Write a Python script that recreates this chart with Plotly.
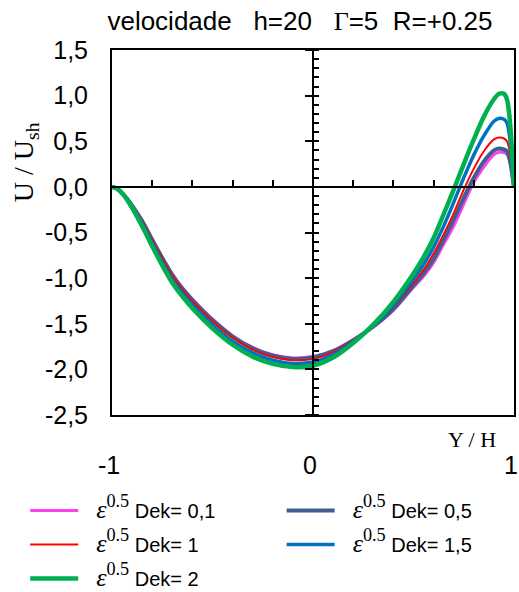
import plotly.graph_objects as go

x_vals = [-1, -0.975, -0.95, -0.925, -0.9, -0.85, -0.8, -0.75, -0.7, -0.65, -0.6, -0.5, -0.4,
          -0.3, -0.2, -0.1, 0, 0.1, 0.2, 0.3, 0.4, 0.5, 0.55, 0.6, 0.65, 0.7, 0.75, 0.8, 0.85,
          0.9, 0.925, 0.95, 0.965, 0.975, 0.985, 0.993, 1.0]

u_dek_01 = [0, -0.02, -0.065, -0.125, -0.20, -0.365, -0.57, -0.77, -0.955, -1.105, -1.23, -1.45, -1.63,
            -1.76, -1.84, -1.875, -1.86, -1.795, -1.68, -1.535, -1.35, -1.10, -0.98, -0.83, -0.63, -0.43,
            -0.19, 0.05, 0.22, 0.355, 0.38, 0.375, 0.355, 0.305, 0.21, 0.095, 0]
u_dek_05 = [0, -0.02, -0.065, -0.13, -0.205, -0.375, -0.58, -0.78, -0.965, -1.115, -1.24, -1.46, -1.64,
            -1.77, -1.85, -1.885, -1.87, -1.80, -1.68, -1.53, -1.34, -1.08, -0.95, -0.79, -0.58, -0.36,
            -0.12, 0.10, 0.28, 0.40, 0.42, 0.41, 0.39, 0.335, 0.23, 0.105, 0]
u_dek_1 = [0, -0.02, -0.065, -0.13, -0.21, -0.385, -0.59, -0.79, -0.98, -1.125, -1.255, -1.475, -1.655,
           -1.785, -1.865, -1.90, -1.885, -1.81, -1.68, -1.52, -1.32, -1.05, -0.91, -0.73, -0.52, -0.29,
           -0.03, 0.20, 0.39, 0.52, 0.54, 0.53, 0.50, 0.43, 0.30, 0.135, 0]
u_dek_15 = [0, -0.02, -0.07, -0.135, -0.22, -0.41, -0.625, -0.83, -1.02, -1.165, -1.295, -1.515, -1.695,
            -1.82, -1.90, -1.935, -1.92, -1.84, -1.695, -1.52, -1.30, -1.01, -0.85, -0.66, -0.43, -0.17,
            0.10, 0.35, 0.56, 0.72, 0.75, 0.74, 0.70, 0.60, 0.41, 0.19, 0]
u_dek_2 = [0, -0.02, -0.07, -0.14, -0.23, -0.43, -0.65, -0.86, -1.05, -1.20, -1.33, -1.55, -1.73,
           -1.86, -1.94, -1.975, -1.96, -1.87, -1.71, -1.51, -1.26, -0.95, -0.77, -0.56, -0.30, -0.03,
           0.25, 0.52, 0.77, 0.96, 1.02, 1.02, 0.96, 0.82, 0.57, 0.26, 0]

series_labels = ["0,1", "0,5", "1", "1,5", "2"]
series_values = [u_dek_01, u_dek_05, u_dek_1, u_dek_15, u_dek_2]
series_colors = ["#FF40F0", "#3F5F8F", "#FF0000", "#0070C0", "#00B050"]
series_widths = [3, 4, 2, 3.5, 4.5]
series_legend = ["legend", "legend2", "legend", "legend2", "legend"]

y_ticks = [1.5, 1.0, 0.5, 0.0, -0.5, -1.0, -1.5, -2.0, -2.5]
y_tick_text = ["1,5", "1,0", "0,5", "0,0", "-0,5", "-1,0", "-1,5", "-2,0", "-2,5"]
x_ticks = [-1, 0, 1]
x_tick_text = ["-1", "0", "1"]

SERIF = "Liberation Serif, Times New Roman, serif"
SANS = "Liberation Sans, Arial, sans-serif"

fig = go.Figure()
for lab, vals, col, w, lg in zip(series_labels, series_values, series_colors, series_widths, series_legend):
    name = (f"<span style='font-family:{SERIF};font-size:26px'>&nbsp;&nbsp;<i>ε</i><sup>0.5</sup></span>"
            f" Dek= {lab}")
    fig.add_trace(go.Scatter(x=x_vals, y=vals, mode="lines", name=name, legend=lg,
                             legendgroup="g" + lab,
                             line=dict(color=col, width=w, shape="spline", smoothing=0.8)))

# empty helper traces so that the axes through the origin are drawn
fig.add_trace(go.Scatter(x=[], y=[], xaxis="x2", yaxis="y", showlegend=False, hoverinfo="skip"))
fig.add_trace(go.Scatter(x=[], y=[], xaxis="x", yaxis="y2", showlegend=False, hoverinfo="skip"))

legend_common = dict(orientation="v", xanchor="left", yanchor="top", y=-0.208,
                     itemwidth=48, font=dict(family=SANS, size=20),
                     bgcolor="rgba(0,0,0,0)", traceorder="grouped", tracegroupgap=5)

fig.update_layout(
    width=519, height=592,
    margin=dict(l=112, r=5, t=50, b=177, autoexpand=False),
    paper_bgcolor="white", plot_bgcolor="white",
    font=dict(family=SANS, size=20, color="black"),
    title=dict(text=f"velocidade   h=20   <span style='font-family:{SERIF}'>Γ</span>=5  R=+0.25",
               x=0.578, xanchor="center", y=0.965, yanchor="middle",
               font=dict(family=SANS, size=26, color="black")),
    xaxis=dict(range=[-1, 1], tickvals=x_ticks, ticktext=x_tick_text,
               showgrid=False, zeroline=False, showline=True, linewidth=2, linecolor="black",
               mirror=True, ticks="", ticklabelstandoff=27, ticklabelshift=-3,
               ticklabeloverflow="allow", tickfont=dict(size=25)),
    yaxis=dict(range=[-2.5, 1.5], tickvals=y_ticks, ticktext=y_tick_text,
               showgrid=False, zeroline=False, showline=True, linewidth=2, linecolor="black",
               mirror=True, ticks="", ticklabelstandoff=17,
               tickfont=dict(size=25)),
    xaxis2=dict(range=[-1, 1], overlaying="x", anchor="free", position=0.625,
                showline=True, linewidth=2, linecolor="black", showgrid=False, zeroline=False,
                ticks="inside", dtick=0.2, tick0=0, ticklen=6, tickwidth=2, tickcolor="black",
                showticklabels=False),
    yaxis2=dict(range=[-2.5, 1.5], overlaying="y", anchor="free", position=0.5,
                showline=True, linewidth=2, linecolor="black", showgrid=False, zeroline=False,
                ticks="outside", dtick=0.5, tick0=0, ticklen=7, tickwidth=2, tickcolor="black",
                minor=dict(ticks="inside", dtick=0.1, ticklen=5, tickwidth=2, tickcolor="black"),
                showticklabels=False),
    legend=dict(x=-0.216, **legend_common),
    legend2=dict(x=0.422, **legend_common),
    showlegend=True,
)

fig.add_annotation(text="U / U<sub>sh</sub>", xref="paper", yref="paper", x=-0.216, y=0.693,
                   textangle=-90, showarrow=False,
                   font=dict(family=SERIF, size=28, color="black"),
                   xanchor="center", yanchor="middle")
fig.add_annotation(text="Y / H", xref="paper", yref="paper", x=0.896, y=-0.066,
                   showarrow=False, font=dict(family=SERIF, size=22, color="black"),
                   xanchor="center", yanchor="middle")

fig.write_html("out.html")
